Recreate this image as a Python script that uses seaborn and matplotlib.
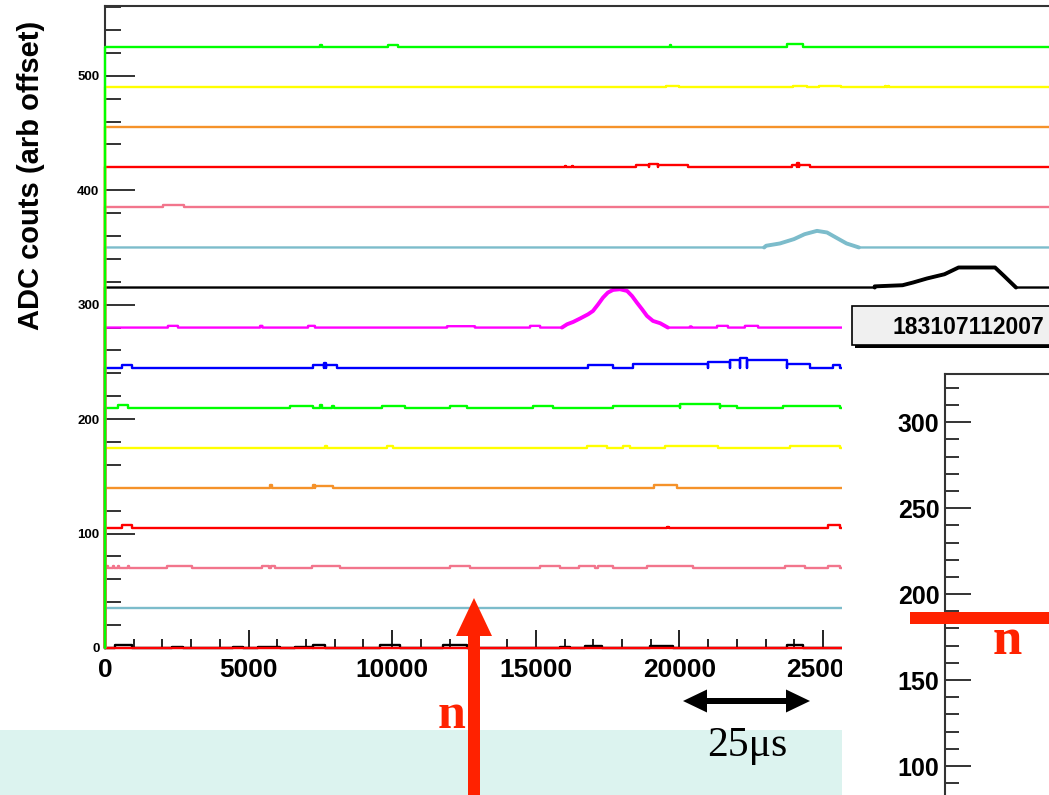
import numpy as np
import pandas as pd
import matplotlib
matplotlib.use("Agg")
import matplotlib.pyplot as plt
from matplotlib.patches import Rectangle, FancyArrow
from matplotlib.ticker import MultipleLocator
import seaborn as sns

# ---------------------------------------------------------------- data
# channel baselines (ADC counts, arbitrary offset) drawn bottom to top
offsets = [0, 0, 35, 70, 105, 140, 175, 210, 245, 280, 315, 350, 385, 420, 455, 490, 525]
colors = ["#000000", "#ff0000", "#7cbccb", "#f2758c", "#ff0000", "#f5922a", "#ffff00",
          "#00ff00", "#0000ff", "#ff00ff", "#000000", "#7cbccb", "#f2758c", "#ff0000",
          "#f5922a", "#ffff00", "#00ff00"]

# flat excursions above baseline: (start time, stop time, height)
blk_black0 = [(350, 940, 2.5), (2330, 2720, 0.8), (4460, 4800, 0.8), (5330, 6090, 0.8),
              (6620, 7240, 0.8), (7240, 7660, 2.5), (9580, 10270, 3.0), (11770, 12600, 2.5),
              (15840, 16190, 1.0), (16710, 17300, 1.5), (18980, 19780, 2.0), (23750, 24300, 2.5)]
blk_red0 = []
blk_lblue35 = []
blk_pink70 = [(70, 110, 1.5), (280, 320, 1.5), (450, 490, 1.5), (800, 840, 1.5),
              (2160, 3030, 1.5), (5470, 5720, 1.5), (5780, 5920, 1.5), (7210, 8180, 1.5),
              (12010, 12710, 1.5), (15150, 15850, 1.5), (16500, 17060, 1.5), (17170, 17690, 1.5),
              (18870, 20470, 1.5), (23680, 24370, 1.5), (25170, 25590, 1.5)]
blk_red105 = [(590, 940, 2.5), (19570, 19640, 1.0), (25170, 25590, 2.5)]
blk_orange140 = [(5750, 5820, 2.0), (7240, 7300, 2.0), (7300, 7940, 1.5), (19120, 19920, 2.0)]
blk_yellow175 = [(7660, 7730, 1.5), (9820, 10030, 1.5), (16780, 17480, 1.5), (18040, 18280, 1.5),
                 (19500, 21340, 1.5), (23850, 25590, 1.5)]
blk_green210 = [(450, 800, 2.0), (6440, 7240, 1.5), (7490, 7560, 2.0), (7900, 7960, 1.5),
                (9650, 10450, 1.5), (12010, 12600, 1.5), (14900, 15600, 1.5), (17690, 20020, 1.5),
                (20020, 21410, 3.0), (21410, 22010, 1.5), (23610, 25590, 1.5)]
blk_blue245 = [(590, 940, 2.5), (7240, 7620, 2.5), (7620, 7700, 4.0), (7700, 8080, 2.5),
               (16820, 17690, 2.3), (18380, 21000, 3.0), (21000, 21760, 4.5), (21760, 22100, 6.5),
               (22100, 22350, 8.0), (22350, 23750, 6.5), (23750, 24550, 3.5), (25350, 25590, 2.0)]
blk_mag280 = [(2190, 2540, 1.5), (5400, 5480, 1.5), (7070, 7310, 1.5), (11910, 12880, 1.2),
              (14800, 15150, 1.5), (20370, 20420, 1.0), (21310, 21690, 1.5), (22280, 22740, 1.5)]
blk_black315 = []
blk_lblue350 = []
blk_pink385 = [(2020, 2750, 1.7)]
blk_red420 = [(16010, 16060, 1.5), (16260, 16310, 1.5), (18490, 18940, 2.0), (18940, 19240, 3.0),
              (19240, 20300, 2.0), (23920, 24100, 2.0), (24100, 24170, 3.5), (24170, 24550, 2.0)]
blk_orange455 = []
blk_yellow490 = [(19530, 19970, 1.5), (23960, 24440, 1.5), (24860, 25630, 1.5),
                 (27160, 27200, 1.5), (27260, 27300, 1.5)]
blk_green525 = [(7490, 7540, 1.5), (9860, 10200, 1.5), (19670, 19710, 1.5), (23750, 24300, 2.5)]

# pulse shapes: (time, height above baseline)
pulse_mag280 = [(15910, 0), (16090, 2.9), (16300, 4.9), (16540, 7.9), (16820, 11.6), (16990, 14.5),
                (17170, 20.3), (17340, 26.2), (17510, 30.6), (17690, 32.9), (17930, 33.5),
                (18180, 32.0), (18350, 27.6), (18520, 21.8), (18700, 16.0), (18870, 10.2),
                (19080, 5.8), (19330, 3.8), (19600, 0)]
pulse_black315 = [(26800, 0), (26800, 1.0), (27770, 2.0), (28140, 4.4), (28620, 7.9),
                  (29230, 11.6), (29720, 17.5), (30990, 17.5), (31300, 10.2), (31720, 0)]
pulse_lblue350 = [(22950, 0), (23020, 1.5), (23500, 3.5), (23990, 7.3), (24360, 11.6),
                  (24790, 14.5), (25140, 13.1), (25450, 8.7), (25820, 3.5), (26250, 0)]

blocks = [blk_black0, blk_red0, blk_lblue35, blk_pink70, blk_red105, blk_orange140,
          blk_yellow175, blk_green210, blk_blue245, blk_mag280, blk_black315, blk_lblue350,
          blk_pink385, blk_red420, blk_orange455, blk_yellow490, blk_green525]
pulses = {9: pulse_mag280, 10: pulse_black315, 11: pulse_lblue350}

x_ticks = [0, 5000, 10000, 15000, 20000, 25000]
y_ticks = [0, 100, 200, 300, 400, 500]
zoom_ticks = [100, 150, 200, 250, 300]
run_label = "183107112007"

X_MAX = 35000

# ---------------------------------------------------------------- style
sns.set_theme(style="white")
plt.rcParams["font.family"] = ["Liberation Sans", "DejaVu Sans"]
plt.rcParams["font.weight"] = "bold"
plt.rcParams["axes.labelweight"] = "bold"

W, H = 1049, 795
fig = plt.figure(figsize=(W / 100, H / 100), dpi=100)
fig.patch.set_facecolor("white")


def px_axes(l, t, r, b):
    """axes rectangle given in pixel edges (top-left origin)"""
    return [l / W, 1 - b / H, (r - l) / W, (b - t) / H]


def trace_frame(offset, blk, pulse):
    events = [(b[0], [(b[0], 0), (b[0], b[2]), (b[1], b[2]), (b[1], 0)]) for b in blk]
    if pulse:
        events.append((pulse[0][0], list(pulse)))
    events.sort(key=lambda e: e[0])
    xs, ys = [0, 0], [0, offset]
    for _, pts in events:
        for x, h in pts:
            xs.append(x)
            ys.append(offset + h)
    xs.append(X_MAX)
    ys.append(offset)
    return pd.DataFrame({"time": xs, "adc": ys})


# ---------------------------------------------------------------- main waveform panel
ax = fig.add_axes(px_axes(105, 6, 105 + X_MAX / 5000 * 143.6, 648), zorder=1)
ax.set_facecolor("white")
for i, (off, col, blk) in enumerate(zip(offsets, colors, blocks)):
    df = trace_frame(off, blk, pulses.get(i))
    sns.lineplot(data=df, x="time", y="adc", sort=False, estimator=None,
                 color=col, linewidth=1.7, ax=ax)
    ln = ax.lines[-1]
    ln.set_clip_on(False)
    ln.set_zorder(3)
    if i in pulses:
        # the digitised pulses are noisy, so their outline reads thicker
        pdf = pd.DataFrame({"time": [p[0] for p in pulses[i]],
                            "adc": [off + p[1] for p in pulses[i]]})
        sns.lineplot(data=pdf, x="time", y="adc", sort=False, estimator=None,
                     color=col, linewidth=2.8, ax=ax)
        ax.lines[-1].set_clip_on(False)
        ax.lines[-1].set_zorder(3)

ax.set_xlim(0, X_MAX)
ax.set_ylim(0, 561)
ax.set_xticks(x_ticks)
ax.set_xticklabels([str(v) for v in x_ticks])
ax.set_yticks(y_ticks)
ax.set_yticklabels([str(v) for v in y_ticks])
ax.xaxis.set_minor_locator(MultipleLocator(1000))
ax.yaxis.set_minor_locator(MultipleLocator(20))
ax.set_xlabel("")
ax.set_ylabel("ADC couts (arb offset)", fontsize=21, fontweight="bold", color="black")
ax.yaxis.set_label_coords(-74 / 1005, (648 - 175) / 642)
ax.yaxis.label.set_verticalalignment("center")

ax.tick_params(axis="x", which="major", direction="in", length=13, width=1.4,
               color="#222222", labelsize=19, labelcolor="black", pad=7, bottom=True)
ax.tick_params(axis="x", which="minor", direction="in", length=6.5, width=1.4,
               color="#222222", bottom=True)
ax.tick_params(axis="y", which="major", direction="in", length=21.6, width=1.4,
               color="#333333", labelsize=9.5, labelcolor="black", pad=4, left=True)
ax.tick_params(axis="y", which="minor", direction="in", length=11.5, width=1.4,
               color="#333333", left=True)
for lbl in ax.get_xticklabels() + ax.get_yticklabels():
    lbl.set_fontweight("bold")
for side in ["left", "top", "bottom"]:
    ax.spines[side].set_visible(True)
    ax.spines[side].set_color("#333333")
    ax.spines[side].set_linewidth(1.5)
ax.spines["right"].set_visible(False)

# ---------------------------------------------------------------- background panels
ov1 = fig.add_axes([0, 0, 1, 1], zorder=2)
ov1.set_xlim(0, W)
ov1.set_ylim(H, 0)
ov1.axis("off")
ov1.patch.set_alpha(0)
ov1.add_patch(Rectangle((842, 297), 260, 560, facecolor="white", edgecolor="none"))
ov1.add_patch(Rectangle((0, 730), 842, 80, facecolor="#dcf3ef", edgecolor="none"))
ov1.add_patch(Rectangle((855, 309), 230, 39, facecolor="black", edgecolor="none"))
ov1.add_patch(Rectangle((852, 306), 230, 39, facecolor="#f0f0f0", edgecolor="black", linewidth=1.2))
ov1.text(892, 327, run_label, ha="left", va="center", fontsize=16.5,
         fontweight="bold", color="black")

# ---------------------------------------------------------------- zoomed pulse-height panel
ax2 = fig.add_axes(px_axes(945, 374, 1300, 852), zorder=3)
ax2.set_facecolor("white")
ax2.set_ylim(50, 328)
ax2.set_xlim(0, 1)
ax2.set_xticks([])
ax2.set_yticks(zoom_ticks)
ax2.set_yticklabels([str(v) for v in zoom_ticks])
ax2.yaxis.set_minor_locator(MultipleLocator(10))
ax2.tick_params(axis="y", which="major", direction="in", length=18.7, width=1.4,
                color="#333333", labelsize=18, labelcolor="black", pad=4, left=True)
ax2.tick_params(axis="y", which="minor", direction="in", length=10, width=1.4,
                color="#333333", left=True)
for lbl in ax2.get_yticklabels():
    lbl.set_fontweight("bold")
for side in ["left", "top"]:
    ax2.spines[side].set_visible(True)
    ax2.spines[side].set_color("#333333")
    ax2.spines[side].set_linewidth(1.5)
ax2.spines["right"].set_visible(False)
ax2.spines["bottom"].set_visible(False)

# ---------------------------------------------------------------- annotations
ov2 = fig.add_axes([0, 0, 1, 1], zorder=4)
ov2.set_xlim(0, W)
ov2.set_ylim(H, 0)
ov2.axis("off")
ov2.patch.set_alpha(0)
arrow_red = "#ff2200"
ov2.add_patch(FancyArrow(474, 805, 0, -207, width=12, head_width=36, head_length=38,
                         length_includes_head=True, color=arrow_red, linewidth=0))
ov2.add_patch(Rectangle((910, 612), 200, 12, facecolor=arrow_red, edgecolor="none"))
ov2.text(452, 716, "n", ha="center", va="center", fontsize=36, fontweight="bold",
         color=arrow_red, family=["Liberation Serif", "DejaVu Serif"])
ov2.text(1007, 641, "n", ha="center", va="center", fontsize=38, fontweight="bold",
         color=arrow_red, family=["Liberation Serif", "DejaVu Serif"])
for dx in (-63, 64):
    ov2.add_patch(FancyArrow(746, 701, dx, 0, width=6, head_width=23, head_length=24,
                             length_includes_head=True, color="black", linewidth=0))
ov2.text(747, 746, "25μs", ha="center", va="center", fontsize=30, fontweight="normal",
         color="black", family=["Liberation Serif", "DejaVu Serif"])

fig.savefig("out.png", dpi=100)
